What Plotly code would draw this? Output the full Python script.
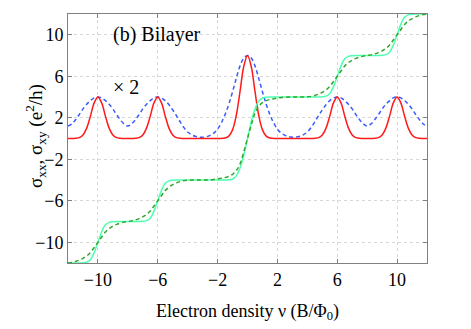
import numpy as np
import plotly.graph_objs as go

# filling factor grid, step 0.25 from -12 to 12
nu = np.arange(-12, 12.01, 0.25)

# sigma_xx (x2) -- narrow peaks (red, solid)
sxx_narrow = [
    0, 0, 0.02, 0.08, 0.34, 1.0, 2.16, 3.43, 4.0, 3.43, 2.16, 1.0,          # -12 .. -9.25
    0.34, 0.08, 0.02, 0, 0, 0, 0.02, 0.08, 0.34, 1.0, 2.16, 3.43,           # -9 .. -6.25
    4.0, 3.43, 2.16, 1.0, 0.34, 0.08, 0.02, 0, 0, 0, 0, 0,                  # -6 .. -3.25
    0, 0, 0, 0, 0, 0.01, 0.05, 0.23, 0.83, 2.24, 4.54, 6.94,                # -3 .. -0.25
    8.0,                                                                   # 0
    6.94, 4.54, 2.24, 0.83, 0.23, 0.05, 0.01, 0, 0, 0, 0, 0,                # 0.25 .. 3
    0, 0, 0, 0, 0, 0.02, 0.08, 0.34, 1.0, 2.16, 3.43, 4.0,                  # 3.25 .. 6
    3.43, 2.16, 1.0, 0.34, 0.08, 0.02, 0, 0, 0, 0.02, 0.08, 0.34,           # 6.25 .. 9
    1.0, 2.16, 3.43, 4.0, 3.43, 2.16, 1.0, 0.34, 0.08, 0.02, 0, 0,          # 9.25 .. 12
]

# sigma_xx (x2) -- broad peaks (blue, dashed)
sxx_broad = [
    1.2, 1.4, 1.8, 2.3, 2.85, 3.3, 3.65, 3.92, 4.0, 3.92, 3.65, 3.3,
    2.85, 2.3, 1.8, 1.4, 1.2, 1.4, 1.8, 2.3, 2.85, 3.3, 3.65, 3.92,
    4.0, 3.9, 3.65, 3.25, 2.75, 2.2, 1.6, 1.05, 0.62, 0.37, 0.22, 0.14,
    0.12, 0.17, 0.3, 0.52, 0.9, 1.5, 2.3, 3.3, 4.5, 5.8, 7.0, 7.75,
    8.0,
    7.75, 7.0, 5.8, 4.5, 3.3, 2.3, 1.5, 0.9, 0.52, 0.3, 0.17, 0.12,
    0.14, 0.22, 0.37, 0.62, 1.05, 1.6, 2.2, 2.75, 3.25, 3.65, 3.9, 4.0,
    3.92, 3.65, 3.3, 2.85, 2.3, 1.8, 1.4, 1.2, 1.4, 1.8, 2.3, 2.85,
    3.3, 3.65, 3.92, 4.0, 3.92, 3.65, 3.3, 2.85, 2.3, 1.8, 1.4, 1.2,
]

# sigma_xy -- sharp steps (aqua green, solid)
sxy_sharp = [
    -12, -12, -12, -12, -11.98, -11.92, -11.68, -11.0, -10.0, -9.0, -8.32, -8.08,
    -8.02, -8, -8, -8, -8, -8, -8, -8, -7.98, -7.92, -7.68, -7.0,
    -6.0, -5.0, -4.32, -4.08, -4.02, -4, -4, -4, -4, -4, -4, -4,
    -4, -4, -4, -4, -4, -4, -4.0, -3.98, -3.9, -3.6, -2.85, -1.6,
    0,
    1.6, 2.85, 3.6, 3.9, 3.98, 4, 4, 4, 4, 4, 4, 4,
    4, 4, 4, 4, 4, 4, 4, 4.02, 4.08, 4.32, 5.0, 6.0,
    7.0, 7.68, 7.92, 7.98, 8, 8, 8, 8, 8, 8, 8, 8.02,
    8.08, 8.32, 9.0, 10.0, 11.0, 11.68, 11.92, 11.98, 12, 12, 12, 12,
]

# sigma_xy -- smooth steps (green, dashed)
sxy_smooth = [
    -12.0, -11.94, -11.85, -11.72, -11.55, -11.32, -10.98, -10.5, -10.0, -9.5, -9.02, -8.68,
    -8.45, -8.28, -8.15, -8.06, -8.0, -7.94, -7.85, -7.72, -7.55, -7.32, -6.98, -6.5,
    -6.0, -5.5, -5.02, -4.68, -4.45, -4.28, -4.15, -4.06, -4.02, -4.01, -4.0, -4.0,
    -4.0, -3.99, -3.97, -3.94, -3.9, -3.84, -3.76, -3.65, -3.45, -3.1, -2.45, -1.3,
    0,
    1.3, 2.45, 3.1, 3.45, 3.65, 3.76, 3.84, 3.9, 3.94, 3.97, 3.99, 4.0,
    4.0, 4.0, 4.01, 4.02, 4.06, 4.15, 4.28, 4.45, 4.68, 5.02, 5.5, 6.0,
    6.5, 6.98, 7.32, 7.55, 7.72, 7.85, 7.94, 8.0, 8.06, 8.15, 8.28, 8.45,
    8.68, 9.02, 9.5, 10.0, 10.5, 10.98, 11.32, 11.55, 11.72, 11.85, 11.94, 12.0,
]

tick_vals = [-10, -6, -2, 2, 6, 10]

font = 'Liberation Serif'

fig = go.Figure()
fig.add_trace(go.Scatter(x=nu, y=sxx_broad, mode='lines', line_shape='spline',
                         line=dict(color='#3a5cff', width=1.5, dash='4px,3px')))
fig.add_trace(go.Scatter(x=nu, y=sxx_narrow, mode='lines', line_shape='spline',
                         line=dict(color='#ff1a1a', width=1.5)))
fig.add_trace(go.Scatter(x=nu, y=sxy_sharp, mode='lines', line_shape='spline',
                         line=dict(color='#4dffb0', width=1.5)))
fig.add_trace(go.Scatter(x=nu, y=sxy_smooth, mode='lines', line_shape='spline',
                         line=dict(color='#33a52a', width=1.5, dash='4px,3px')))

fig.add_annotation(x=-9.1, y=10, text='(b) Bilayer', showarrow=False, xanchor='left',
                   font=dict(size=20))
fig.add_annotation(x=-9.1, y=5.0, text='\u00d7 2', showarrow=False, xanchor='left',
                   font=dict(size=20))
# y axis title placed by hand
fig.add_annotation(xref='paper', yref='paper', x=-0.092, y=0.51, textangle=-90,
                   text='\u03c3<sub>xx</sub>, \u03c3<sub>xy</sub> (e<sup>2</sup>/h)',
                   showarrow=False, xanchor='center', yanchor='middle',
                   font=dict(size=19))

axis_style = dict(showline=True, linecolor='#808080', linewidth=1, mirror='ticks',
                  ticks='inside', ticklen=4, tickcolor='#808080',
                  showgrid=True, gridcolor='#d8d8d8', griddash='dot', gridwidth=1,
                  zeroline=False, tickfont=dict(size=18))

fig.update_xaxes(range=[-12, 12], tickvals=tick_vals,
                 title=dict(text='Electron density \u03bd (B/\u03a6<sub>0</sub>)',
                            font=dict(size=18)),
                 **axis_style)
fig.update_yaxes(range=[-12, 12], tickvals=tick_vals, **axis_style)

fig.update_layout(width=471, height=329, showlegend=False,
                  font=dict(family=font, color='black'),
                  margin=dict(l=68, r=44, t=14, b=57),
                  plot_bgcolor='white', paper_bgcolor='white')

fig.write_html("out.html", config={'displayModeBar': False},
               post_script="document.body.style.margin='0';")
